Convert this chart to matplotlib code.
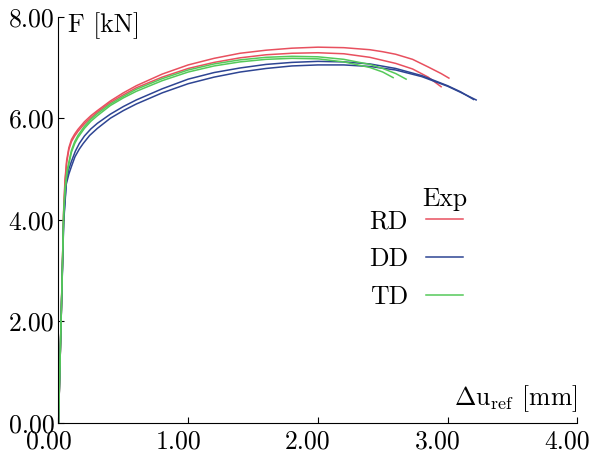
import matplotlib.pyplot as plt
from matplotlib.ticker import FormatStrFormatter
from matplotlib.transforms import ScaledTranslation

plt.rcParams['font.family'] = 'serif'
plt.rcParams['font.serif'] = ['cmr10']
plt.rcParams['mathtext.fontset'] = 'cm'
plt.rcParams['axes.formatter.use_mathtext'] = True

# valores: desplazamiento [mm], fuerza [kN]
rd1_x = [0, 0.02, 0.04, 0.05, 0.063, 0.08, 0.1, 0.125, 0.15, 0.2, 0.25, 0.3, 0.4, 0.5, 0.6, 0.8, 1.0,
         1.2, 1.4, 1.6, 1.8, 2.0, 2.2, 2.4, 2.5, 2.6, 2.73, 2.85, 2.95, 3.01]
rd1_f = [0, 2.0, 4.2, 4.78, 5.17, 5.42, 5.58, 5.69, 5.78, 5.93, 6.05, 6.15, 6.34, 6.5, 6.64, 6.87, 7.05,
         7.18, 7.28, 7.34, 7.38, 7.40, 7.39, 7.35, 7.31, 7.26, 7.16, 7.01, 6.88, 6.79]
rd2_x = [0, 0.02, 0.04, 0.05, 0.063, 0.08, 0.1, 0.125, 0.15, 0.2, 0.25, 0.3, 0.4, 0.5, 0.6, 0.8, 1.0,
         1.2, 1.4, 1.6, 1.8, 2.0, 2.2, 2.4, 2.6, 2.73, 2.85, 2.95]
rd2_f = [0, 2.0, 4.15, 4.72, 5.12, 5.38, 5.54, 5.65, 5.74, 5.89, 6.01, 6.12, 6.31, 6.46, 6.6, 6.81, 6.98,
         7.1, 7.19, 7.25, 7.28, 7.29, 7.27, 7.2, 7.08, 6.97, 6.81, 6.62]

dd1_x = [0, 0.02, 0.04, 0.06, 0.08, 0.1, 0.13, 0.16, 0.2, 0.25, 0.3, 0.4, 0.5, 0.6, 0.8, 1.0, 1.2, 1.4,
         1.6, 1.8, 2.0, 2.2, 2.4, 2.6, 2.8, 3.0, 3.1, 3.2]
dd1_f = [0, 2.0, 4.0, 4.75, 5.0, 5.15, 5.35, 5.5, 5.65, 5.79, 5.9, 6.08, 6.23, 6.36, 6.58, 6.77, 6.9, 6.99,
         7.06, 7.1, 7.12, 7.11, 7.07, 6.98, 6.84, 6.64, 6.52, 6.37]
dd2_x = [0, 0.02, 0.04, 0.06, 0.08, 0.1, 0.127, 0.16, 0.19, 0.24, 0.3, 0.4, 0.5, 0.6, 0.8, 1.0, 1.2, 1.4,
         1.6, 1.8, 2.0, 2.2, 2.4, 2.6, 2.8, 3.0, 3.1, 3.22]
dd2_f = [0, 2.0, 3.95, 4.7, 4.9, 5.05, 5.24, 5.39, 5.5, 5.66, 5.8, 6.0, 6.15, 6.28, 6.5, 6.68, 6.81, 6.91,
         6.98, 7.03, 7.05, 7.05, 7.02, 6.95, 6.82, 6.63, 6.51, 6.36]

td1_x = [0, 0.02, 0.04, 0.05, 0.065, 0.083, 0.1, 0.125, 0.15, 0.2, 0.25, 0.3, 0.4, 0.5, 0.6, 0.8, 1.0,
         1.2, 1.4, 1.6, 1.8, 2.0, 2.2, 2.4, 2.5, 2.6, 2.68]
td1_f = [0, 2.0, 4.15, 4.6, 4.95, 5.17, 5.37, 5.54, 5.66, 5.84, 5.98, 6.09, 6.28, 6.43, 6.57, 6.78, 6.95,
         7.07, 7.15, 7.2, 7.22, 7.21, 7.16, 7.06, 6.98, 6.88, 6.77]
td2_x = [0, 0.02, 0.04, 0.05, 0.065, 0.083, 0.1, 0.125, 0.15, 0.2, 0.25, 0.3, 0.4, 0.5, 0.6, 0.8, 1.0,
         1.2, 1.4, 1.6, 1.8, 2.0, 2.2, 2.4, 2.5, 2.58]
td2_f = [0, 2.0, 4.1, 4.55, 4.9, 5.13, 5.33, 5.5, 5.62, 5.8, 5.94, 6.05, 6.25, 6.4, 6.53, 6.74, 6.91,
         7.03, 7.11, 7.16, 7.18, 7.17, 7.11, 7.0, 6.91, 6.8]

c_rd = '#e8505f'
c_dd = '#2e4593'
c_td = '#55c95a'
fs = 18.5

fig = plt.figure(figsize=(5.92, 4.53), dpi=100)
ax = fig.add_axes([0.0988, 0.0669, 0.8764, 0.8962])

lw = 1.1
ax.plot(rd1_x, rd1_f, color=c_rd, lw=lw, label='RD')
ax.plot(rd2_x, rd2_f, color=c_rd, lw=lw)
ax.plot(dd1_x, dd1_f, color=c_dd, lw=lw, label='DD')
ax.plot(dd2_x, dd2_f, color=c_dd, lw=lw)
ax.plot(td1_x, td1_f, color=c_td, lw=lw, label='TD')
ax.plot(td2_x, td2_f, color=c_td, lw=lw)

ax.set_xlim(0, 4)
ax.set_ylim(0, 8)
ax.set_xticks([0, 1, 2, 3, 4])
ax.set_yticks([0, 2, 4, 6, 8])
ax.xaxis.set_major_formatter(FormatStrFormatter('%.2f'))
ax.yaxis.set_major_formatter(FormatStrFormatter('%.2f'))
ax.tick_params(direction='in', length=4, width=0.8, labelsize=fs)
ax.tick_params(axis='x', pad=5)
ax.tick_params(axis='y', pad=3)
ax.spines['top'].set_visible(False)
ax.spines['right'].set_visible(False)

# las etiquetas del eje x estan corridas a la izquierda en el original
shift = ScaledTranslation(-10 / 100, 0, fig.dpi_scale_trans)
for lab in ax.get_xticklabels():
    lab.set_transform(lab.get_transform() + shift)

ax.text(0.018, 0.963, 'F [kN]', transform=ax.transAxes, ha='left', va='baseline', fontsize=fs)
ax.text(1.0, 0.044, r'$\Delta\mathrm{u}_\mathrm{ref}$ [mm]', transform=ax.transAxes,
        ha='right', va='baseline', fontsize=fs)

ax.legend(loc='upper right', bbox_to_anchor=(0.78, 0.525), frameon=False, markerfirst=False,
          fontsize=fs, handlelength=1.45, handletextpad=0.7, labelspacing=0.55,
          borderpad=0, borderaxespad=0)
ax.text(0.7445, 0.534, 'Exp', transform=ax.transAxes, ha='center', va='baseline', fontsize=fs)

fig.savefig('out.png', dpi=100)
